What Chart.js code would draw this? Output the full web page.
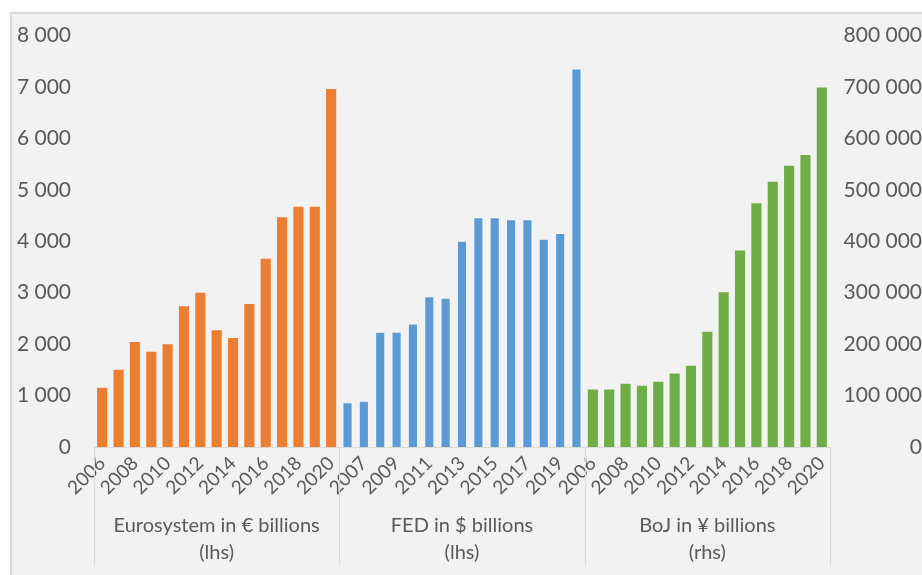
<!DOCTYPE html>
<html>
<head>
<meta charset="utf-8">
<script src="https://cdn.jsdelivr.net/npm/chart.js@4"></script>
<style>
  html, body { margin: 0; padding: 0; background: #ffffff; overflow: hidden; }
  #frame { position: absolute; left: 10px; top: 12px; width: 920px; height: 600px;
           background: #f2f2f2; border-left: 2px solid #d9d9d9; border-top: 2px solid #d9d9d9; }
  #chart { position: absolute; left: 0; top: 0; }
</style>
</head>
<body>
<div id="frame"></div>
<canvas id="chart" width="922" height="575"></canvas>
<script>
// Années (les mêmes pour les trois banques centrales)
const years = ['2006', '2007', '2008', '2009', '2010', '2011', '2012', '2013', '2014',
               '2015', '2016', '2017', '2018', '2019', '2020'];

// Bilans
const euroValues = [1150, 1500, 2040, 1850, 2000, 2735, 3000, 2270, 2120, 2780, 3660, 4470, 4670, 4670, 6960];
const fedValues = [870, 900, 2240, 2240, 2400, 2930, 2900, 4010, 4470, 4470, 4430, 4430, 4050, 4160, 7360];
const bojValues = [112000, 112000, 123000, 119000, 127000, 143000, 158000, 224000, 301000,
                   382000, 474000, 516000, 547000, 568000, 699000];

const groupNames = ['Eurosystem in € billions', 'FED in $ billions', 'BoJ in ¥ billions'];
const groupSides = ['(lhs)', '(lhs)', '(rhs)'];

const leftTicks = [0, 1000, 2000, 3000, 4000, 5000, 6000, 7000, 8000];
const rightTicks = [0, 100000, 200000, 300000, 400000, 500000, 600000, 700000, 800000];

const textColor = '#595959';
const lineColor = '#d9d9d9';
const fontFamily = 'Lato, "Open Sans", sans-serif';

// Libellés : 3 groupes de 15 années
const labels = [].concat(years, years, years);
const n = years.length;
const empty = () => new Array(n).fill(null);

// séparateur des milliers avec espace
function fmt(v) {
    return String(v).replace(/\B(?=(\d{3})+(?!\d))/g, ' ');
}

// Plugin pour les libellés de groupe et les séparateurs verticaux
const groupAxisPlugin = {
    id: 'groupAxis',
    afterDraw(chart) {
        const ctx = chart.ctx;
        const xs = chart.scales.x;
        const half = (xs.getPixelForValue(1) - xs.getPixelForValue(0)) / 2;
        const top = chart.chartArea.bottom;
        ctx.save();
        ctx.strokeStyle = lineColor;
        ctx.lineWidth = 1;
        for (let g = 0; g <= groupNames.length; g++) {
            const x = Math.round(xs.getPixelForValue(g * n) - half) + 0.5;
            ctx.beginPath();
            ctx.moveTo(x, top);
            ctx.lineTo(x, top + 118);
            ctx.stroke();
        }
        ctx.fillStyle = textColor;
        ctx.font = '20px ' + fontFamily;
        ctx.textAlign = 'center';
        ctx.textBaseline = 'middle';
        groupNames.forEach((name, g) => {
            const x0 = xs.getPixelForValue(g * n) - half;
            const x1 = xs.getPixelForValue((g + 1) * n - 1) + half;
            const cx = (x0 + x1) / 2;
            ctx.fillText(name, cx, top + 79);
            ctx.fillText(groupSides[g], cx, top + 106);
        });
        ctx.restore();
    }
};

const ctx = document.getElementById('chart').getContext('2d');
const chart = new Chart(ctx, {
    type: 'bar',
    data: {
        labels: labels,
        datasets: [{
            label: groupNames[0],
            data: euroValues.concat(empty(), empty()),
            backgroundColor: '#ed7d31',
            yAxisID: 'y',
            grouped: false
        }, {
            label: groupNames[1],
            data: empty().concat(fedValues, empty()),
            backgroundColor: '#5b9bd5',
            borderColor: 'rgba(255,255,255,0.35)',
            borderWidth: 1,
            yAxisID: 'y',
            grouped: false
        }, {
            label: groupNames[2],
            data: empty().concat(empty(), bojValues),
            backgroundColor: '#70ad47',
            yAxisID: 'y1',
            grouped: false
        }]
    },
    options: {
        responsive: false,
        devicePixelRatio: 1,
        animation: false,
        categoryPercentage: 1,
        barPercentage: 0.62,
        layout: { padding: { top: 33, left: 0, right: 0, bottom: 0 } },
        plugins: {
            legend: { display: false },
            tooltip: { enabled: false }
        },
        scales: {
            x: {
                grid: { display: false, drawTicks: false },
                border: { display: true, color: lineColor, width: 1 },
                ticks: {
                    autoSkip: false,
                    minRotation: 45,
                    maxRotation: 45,
                    padding: 5,
                    color: textColor,
                    font: { family: fontFamily, size: 19 },
                    callback: function (value, index) {
                        return index % 2 === 0 ? this.getLabelForValue(value) : '';
                    }
                },
                afterFit: (scale) => { scale.height = 128; }
            },
            y: {
                position: 'left',
                min: leftTicks[0],
                max: leftTicks[leftTicks.length - 1],
                afterBuildTicks: (scale) => { scale.ticks = leftTicks.map(v => ({ value: v })); },
                grid: { display: false, drawTicks: false },
                border: { display: false },
                ticks: {
                    padding: 23,
                    color: textColor,
                    font: { family: fontFamily, size: 21 },
                    callback: (v) => fmt(v)
                },
                afterFit: (scale) => { scale.width = 94; }
            },
            y1: {
                position: 'right',
                min: rightTicks[0],
                max: rightTicks[rightTicks.length - 1],
                afterBuildTicks: (scale) => { scale.ticks = rightTicks.map(v => ({ value: v })); },
                grid: { display: false, drawTicks: false },
                border: { display: false },
                ticks: {
                    padding: 18,
                    crossAlign: 'far',
                    color: textColor,
                    font: { family: fontFamily, size: 21 },
                    callback: (v) => fmt(v)
                },
                afterFit: (scale) => { scale.width = 922 - 830; }
            }
        }
    },
    plugins: [groupAxisPlugin]
});
</script>
</body>
</html>
